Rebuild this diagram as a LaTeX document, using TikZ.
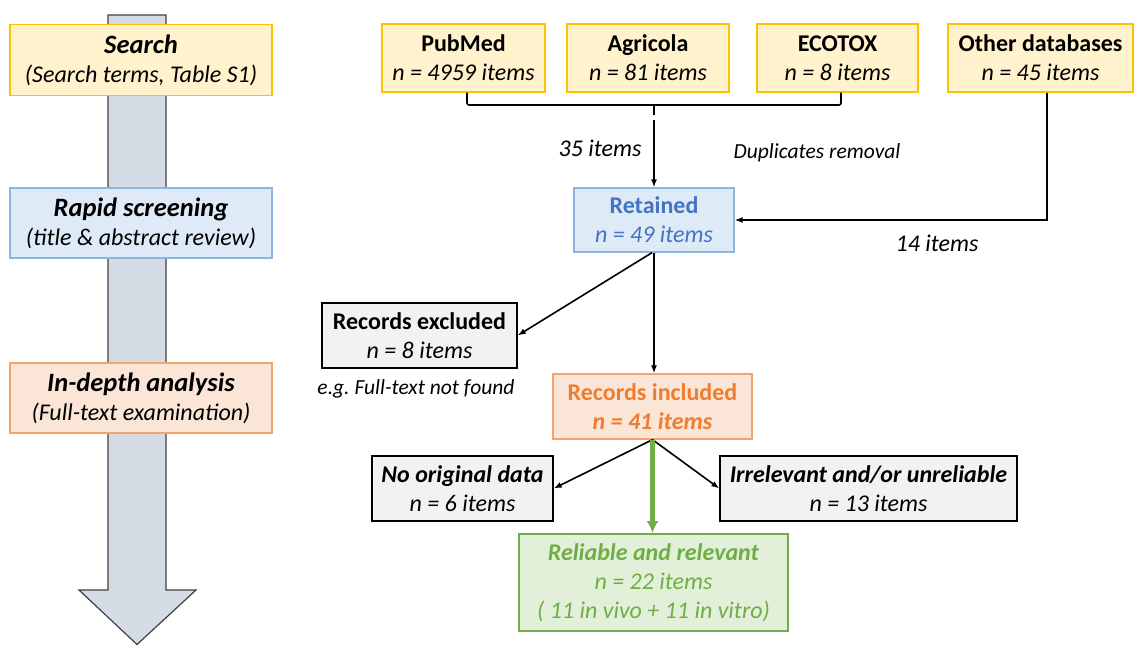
\documentclass[tikz,border=0pt]{standalone}
\usepackage{fontspec}
\setmainfont{Carlito}
\usetikzlibrary{arrows.meta}
\definecolor{yfill}{HTML}{FFF2CC}
\definecolor{ydraw}{HTML}{FFC000}
\definecolor{bfill}{HTML}{DEEBF7}
\definecolor{bdraw}{HTML}{8DB4E2}
\definecolor{btext}{HTML}{4472C4}
\definecolor{ofill}{HTML}{FBE5D6}
\definecolor{odraw}{HTML}{F4A46A}
\definecolor{otext}{HTML}{ED7D31}
\definecolor{gfill}{HTML}{E2F0D9}
\definecolor{gdraw}{HTML}{70AD47}
\definecolor{grfill}{HTML}{F2F2F2}
\definecolor{afill}{HTML}{D6DCE5}
\definecolor{adraw}{HTML}{404040}
\newcommand{\bigt}[1]{{\fontsize{26.5}{29}\selectfont\bfseries\itshape #1}}
\frenchspacing
\tikzset{
  box/.style={rectangle, inner sep=0pt, align=center, line width=1.3pt,
    font=\fontsize{24}{29}\selectfont},
  ybox/.style={box, fill=yfill, draw=ydraw},
  bbox/.style={box, fill=bfill, draw=bdraw},
  obox/.style={box, fill=ofill, draw=odraw},
  gbox/.style={box, fill=gfill, draw=gdraw, line width=2pt},
  grbox/.style={box, fill=grfill, draw=black},
  lbl/.style={font=\fontsize{21.5}{24}\selectfont\itshape, inner sep=0pt},
  biglbl/.style={font=\fontsize{24}{26}\selectfont\itshape, inner sep=0pt},
  conn/.style={line width=1.6pt, -{Latex[length=8pt,width=6pt]}},
  plain/.style={line width=1.6pt},
}
\begin{document}
\begin{tikzpicture}[x=1pt,y=-1pt]
\useasboundingbox (0,0) rectangle (1134,645);
% big process arrow
\draw[fill=afill, draw=adraw, line width=1.2pt]
  (108,15) -- (166,15) -- (166,590) -- (196,590) -- (137,644.5) -- (79,590) -- (108,590) -- cycle;
% left stage boxes
\node[ybox, minimum width=262pt, minimum height=71pt] (search) at (141,60)
  {\bigt{Search}\\\textit{(Search terms, Table S1)}};
\node[bbox, minimum width=262pt, minimum height=70pt] (rapid) at (141,223)
  {\bigt{Rapid screening}\\\textit{(title \& abstract review)}};
\node[obox, minimum width=262pt, minimum height=70pt] (indepth) at (141,398)
  {\bigt{In-depth analysis}\\\textit{(Full-text examination)}};
% databases
\node[ybox, minimum width=163pt, minimum height=68pt] (pubmed) at (463.5,58)
  {\textbf{PubMed}\\\textit{n = 4959 items}};
\node[ybox, minimum width=162pt, minimum height=68pt] (agricola) at (648,58)
  {\textbf{Agricola}\\\textit{n = 81 items}};
\node[ybox, minimum width=161pt, minimum height=68pt] (ecotox) at (837.5,58)
  {\textbf{ECOTOX}\\\textit{n = 8 items}};
\node[ybox, minimum width=185pt, minimum height=68pt] (other) at (1040.5,58)
  {\textbf{Other databases}\\\textit{n = 45 items}};
% flow boxes
\node[bbox, minimum width=160pt, minimum height=64pt, text=btext] (retained) at (654,220)
  {\textbf{Retained}\\\textit{n = 49 items}};
\node[grbox, minimum width=195pt, minimum height=65pt] (excluded) at (419.5,335.5)
  {\textbf{Records excluded}\\\textit{n = 8 items}};
\node[obox, minimum width=199pt, minimum height=65pt, text=otext] (included) at (652.5,406.5)
  {\textbf{Records included}\\\textbf{\textit{n = 41 items}}};
\node[grbox, minimum width=181pt, minimum height=65pt] (noorig) at (462.5,488.5)
  {\textbf{\textit{No original data}}\\\textit{n = 6 items}};
\node[grbox, minimum width=297pt, minimum height=65pt] (irrel) at (868.5,488.5)
  {\textbf{\textit{Irrelevant and/or unreliable}}\\\textit{n = 13 items}};
\node[gbox, minimum width=269pt, minimum height=97pt, text=gdraw] (reliable) at (653.5,582.5)
  {\textbf{\textit{Reliable and relevant}}\\\textit{n = 22 items}\\\textit{( 11 in vivo + 11 in vitro)}};
% labels
\node[biglbl] (l35) at (600,148) {35 items};
\node[lbl] (ldup) at (817,153) {Duplicates removal};
\node[biglbl] (l14) at (937,243) {14 items};
\node[lbl] (leg) at (416,389) {e.g. Full-text not found};
% bracket
\coordinate (brk) at (retained.north |- 0,105);
\draw[plain, rounded corners=2pt] ([xshift=3.5pt]pubmed.south) |- (brk) -| ([xshift=3.5pt]ecotox.south);
\draw[plain] (brk) -- ++(0,10);
\draw[conn] ([yshift=-15pt]brk) -- (retained.north);
% other databases
\draw[conn] ([xshift=6.5pt]other.south) |- (retained.east);
% retained outputs
\draw[conn] ([xshift=-2pt]retained.south) -- (excluded.east);
\draw[conn] (retained.south) -- (retained.south |- included.north);
% included outputs
\draw[conn] (included.south) -- (noorig.east);
\draw[conn] (included.south) -- (irrel.west);
\draw[line width=4.5pt, draw=gdraw, -{Latex[length=12pt,width=12pt]}] (included.south) -- (included.south |- reliable.north);
\end{tikzpicture}
\end{document}
